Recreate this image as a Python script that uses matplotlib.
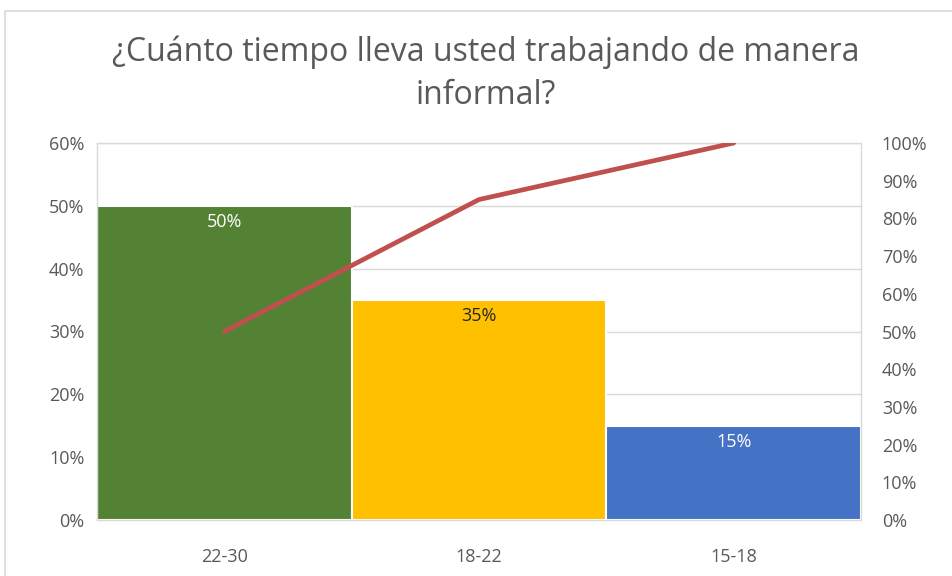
import matplotlib
matplotlib.use("Agg")
import matplotlib.pyplot as plt
from matplotlib.patches import Rectangle
from matplotlib.ticker import FuncFormatter, MultipleLocator
from matplotlib import font_manager

categories = ["22-30", "18-22", "15-18"]
shares = [0.50, 0.35, 0.15]
cumulative = [0.50, 0.85, 1.00]
bar_colors = ["#548235", "#FFC000", "#4472C4"]
label_colors = ["white", "#262626", "white"]
title = "¿Cuánto tiempo lleva usted trabajando de manera\ninformal?"

names = {f.name for f in font_manager.fontManager.ttflist}
title_family = ["Liberation Sans Narrow", "DejaVu Sans"] if "Liberation Sans Narrow" in names else ["Open Sans", "DejaVu Sans"]

W, H = 952, 576
fig = plt.figure(figsize=(W / 100, H / 100), dpi=100)
fig.patch.set_facecolor("white")

fig.add_artist(Rectangle((5 / W, 0 - 0.01), 1.0, 1 - 11 / H + 0.01, transform=fig.transFigure,
                         fill=False, edgecolor="#D9D9D9", linewidth=1.2))

left, right, top, bottom = 97, 861, 143, 520
ax = fig.add_axes([left / W, 1 - bottom / H, (right - left) / W, (bottom - top) / H])
x = range(len(categories))
ax.bar(x, shares, width=1.0, color=bar_colors, edgecolor="white", linewidth=1.5, zorder=2)
ax.set_xlim(-0.5, len(categories) - 0.5)
ax.set_ylim(0, 0.6)
ax.yaxis.set_major_locator(MultipleLocator(0.1))
ax.yaxis.set_major_formatter(FuncFormatter(lambda v, p: f"{v*100:.0f}%"))
ax.set_xticks(list(x))
ax.set_xticklabels(categories)
ax.grid(axis="y", color="#D9D9D9", linewidth=1, zorder=0)
ax.set_axisbelow(True)
for s in ax.spines.values():
    s.set_color("#D9D9D9")
    s.set_linewidth(1)
ax.tick_params(length=0, labelsize=13, colors="#595959", pad=9)
ax.tick_params(axis="x", pad=20)

for i, (v, c) in enumerate(zip(shares, label_colors)):
    ax.annotate(f"{v*100:.0f}%", (i, v), xytext=(0, -11.5), textcoords="offset points",
                ha="center", va="center", color=c, fontsize=13, zorder=4,
                family=["Open Sans", "DejaVu Sans"])

ax2 = ax.twinx()
ax2.plot(list(x), cumulative, color="#C0504D", linewidth=3.4, zorder=5, solid_capstyle="round")
ax2.set_ylim(0, 1.0)
ax2.yaxis.set_major_locator(MultipleLocator(0.1))
ax2.yaxis.set_major_formatter(FuncFormatter(lambda v, p: f"{v*100:.0f}%"))
ax2.tick_params(length=0, labelsize=13, colors="#595959", pad=15)
for s in ax2.spines.values():
    s.set_visible(False)

fig.text(0.5 * (107 + 865) / W, 1 - 74 / H, title, ha="center", va="center",
         fontsize=23, color="#595959", linespacing=1.4, family=title_family)

for t in ax.get_xticklabels() + ax.get_yticklabels() + ax2.get_yticklabels():
    t.set_family(["Open Sans", "DejaVu Sans"])

fig.savefig("out.png", dpi=100)
